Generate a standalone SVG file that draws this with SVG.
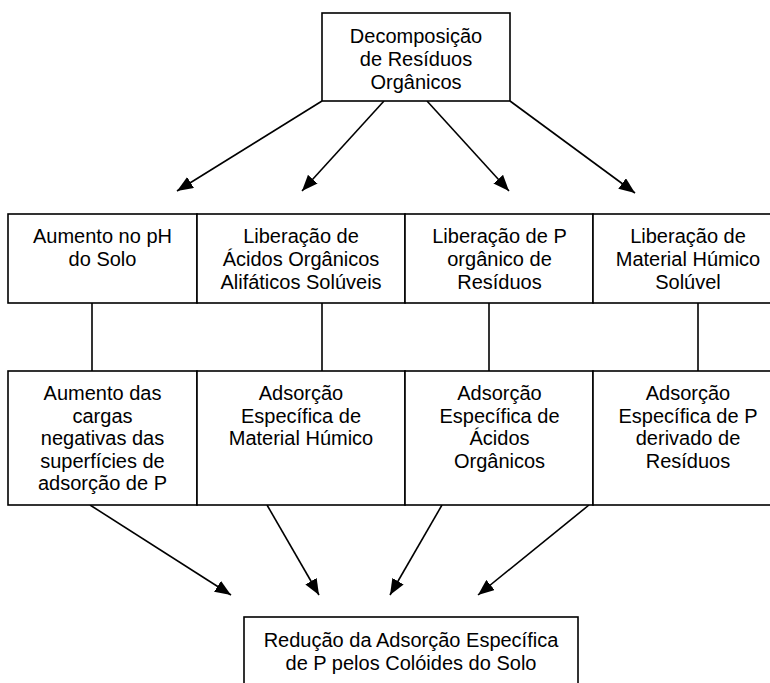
<svg xmlns="http://www.w3.org/2000/svg" width="770" height="683" viewBox="0 0 770 683">
<style>
.box{fill:#fff;stroke:#000;stroke-width:1.6}
.t{font-family:"Liberation Sans",Arial,sans-serif;font-size:20px;fill:#000;text-anchor:middle}
.c{stroke:#000;stroke-width:1.6;fill:none}
</style>
<defs>
<marker id="ah" markerUnits="userSpaceOnUse" markerWidth="17" markerHeight="13" refX="16" refY="6.5" orient="auto">
<path d="M0,0 L16,6.5 L0,13 z" fill="#000"/>
</marker>
</defs>
<rect width="770" height="683" fill="#fff"/>
<g id="connectors">
<line class="c" x1="322" y1="101" x2="177" y2="191" marker-end="url(#ah)"/>
<line class="c" x1="384" y1="101" x2="302" y2="191" marker-end="url(#ah)"/>
<line class="c" x1="427" y1="101" x2="509" y2="191" marker-end="url(#ah)"/>
<line class="c" x1="510" y1="101" x2="635" y2="193" marker-end="url(#ah)"/>
<line class="c" x1="92" y1="303" x2="92" y2="371"/>
<line class="c" x1="322" y1="303" x2="322" y2="371"/>
<line class="c" x1="489" y1="303" x2="489" y2="371"/>
<line class="c" x1="698" y1="303" x2="698" y2="371"/>
<line class="c" x1="90" y1="505" x2="231" y2="595" marker-end="url(#ah)"/>
<line class="c" x1="267" y1="505" x2="319" y2="595" marker-end="url(#ah)"/>
<line class="c" x1="442" y1="505" x2="390" y2="595" marker-end="url(#ah)"/>
<line class="c" x1="589" y1="505" x2="478" y2="595" marker-end="url(#ah)"/>
</g>
<g id="top">
<rect class="box" x="322" y="13" width="188" height="88"/>
<text class="t" x="416" y="43">Decomposição</text>
<text class="t" x="416" y="66">de Resíduos</text>
<text class="t" x="416" y="89">Orgânicos</text>
</g>
<g id="r1a">
<rect class="box" x="8" y="214" width="189" height="89"/>
<text class="t" x="102.5" y="243">Aumento no pH</text>
<text class="t" x="102.5" y="266">do Solo</text>
</g>
<g id="r1b">
<rect class="box" x="197" y="214" width="208" height="89"/>
<text class="t" x="301" y="243">Liberação de</text>
<text class="t" x="301" y="266">Ácidos Orgânicos</text>
<text class="t" x="301" y="289">Alifáticos Solúveis</text>
</g>
<g id="r1c">
<rect class="box" x="405" y="214" width="188" height="89"/>
<text class="t" x="499.5" y="243">Liberação de P</text>
<text class="t" x="499.5" y="266">orgânico de</text>
<text class="t" x="499.5" y="289">Resíduos</text>
</g>
<g id="r1d">
<rect class="box" x="593" y="214" width="190" height="89"/>
<text class="t" x="688" y="243">Liberação de</text>
<text class="t" x="688" y="266">Material Húmico</text>
<text class="t" x="688" y="289">Solúvel</text>
</g>
<g id="r2a">
<rect class="box" x="8" y="371" width="189" height="134"/>
<text class="t" x="102.5" y="400">Aumento das</text>
<text class="t" x="102.5" y="422.5">cargas</text>
<text class="t" x="102.5" y="445">negativas das</text>
<text class="t" x="102.5" y="467.5">superfícies de</text>
<text class="t" x="102.5" y="490">adsorção de P</text>
</g>
<g id="r2b">
<rect class="box" x="197" y="371" width="208" height="134"/>
<text class="t" x="301" y="400">Adsorção</text>
<text class="t" x="301" y="422.5">Específica de</text>
<text class="t" x="301" y="445">Material Húmico</text>
</g>
<g id="r2c">
<rect class="box" x="405" y="371" width="188" height="134"/>
<text class="t" x="499.5" y="400">Adsorção</text>
<text class="t" x="499.5" y="422.5">Específica de</text>
<text class="t" x="499.5" y="445">Ácidos</text>
<text class="t" x="499.5" y="467.5">Orgânicos</text>
</g>
<g id="r2d">
<rect class="box" x="593" y="371" width="190" height="134"/>
<text class="t" x="688" y="400">Adsorção</text>
<text class="t" x="688" y="422.5">Específica de P</text>
<text class="t" x="688" y="445">derivado de</text>
<text class="t" x="688" y="467.5">Resíduos</text>
</g>
<g id="bottom">
<rect class="box" x="244" y="617" width="334" height="90"/>
<text class="t" x="411" y="647">Redução da Adsorção Específica</text>
<text class="t" x="411" y="670">de P pelos Colóides do Solo</text>
</g>
</svg>
